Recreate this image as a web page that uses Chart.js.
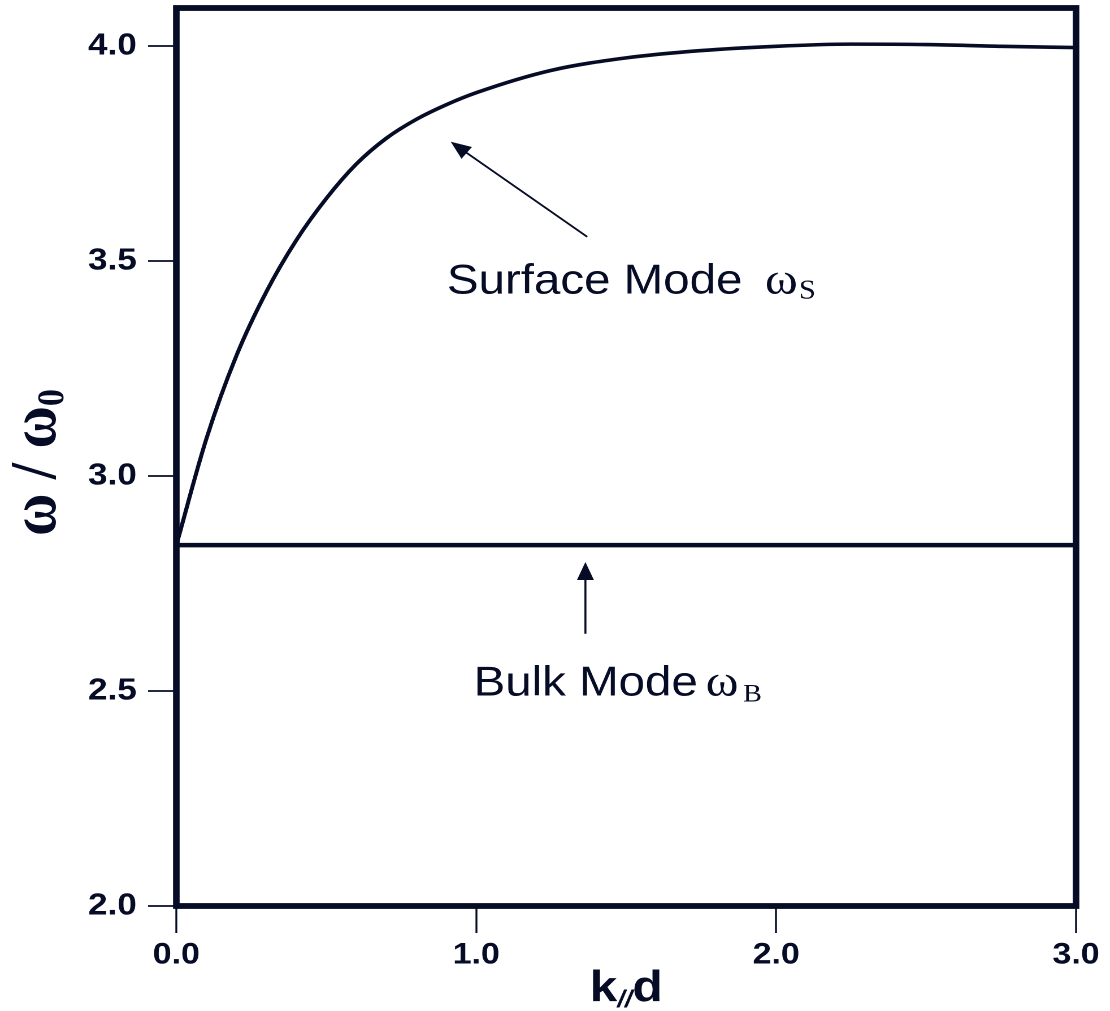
<!DOCTYPE html>
<html>
<head>
<meta charset="utf-8">
<title>Surface and bulk mode dispersion</title>
<script src="https://cdn.jsdelivr.net/npm/chart.js@4.4.1/dist/chart.umd.min.js"></script>
<style>
  html, body { margin: 0; padding: 0; background: #fff; overflow: hidden; }
  /* the original figure is stretched a bit horizontally */
  #wrap { position: relative; width: 982px; height: 1011px; transform: scaleX(1.1303); transform-origin: 0 0; }
</style>
</head>
<body>
<div id="wrap"><canvas id="chart"></canvas></div>
<script>
// k//d values and omega/omega0
const kValues     = [0, 0.1, 0.2, 0.3, 0.4, 0.5, 0.6, 0.7, 0.8, 0.9, 1.0, 1.25, 1.5, 1.75, 2.0, 2.25, 2.5, 2.75, 3.0];
const surfaceMode = [2.839, 3.086, 3.279, 3.428, 3.548, 3.645, 3.725, 3.785, 3.829, 3.863, 3.891, 3.943, 3.972, 3.989, 3.999, 4.004, 4.003, 3.999, 3.996];
const bulkK       = [0, 3.0];
const bulkMode    = [2.839, 2.839];

const xTickValues = [0, 1, 2, 3];
const yTickValues = [2.0, 2.5, 3.0, 3.5, 4.0];

// annotation arrows: [tail, head] in data units
const surfaceArrow = [[1.370, 3.556], [0.915, 3.777]];
const bulkArrow    = [[1.364, 2.633], [1.364, 2.800]];
const surfaceLabelAt = [0.902, 3.424];
const bulkLabelAt    = [0.991, 2.490];

const ink = '#060b26';
const sans = '"Liberation Sans", Arial, sans-serif';
const serif = '"Liberation Serif", "Times New Roman", serif';

function toPoints(xs, ys) {
  return xs.map(function(x, i) { return { x: x, y: ys[i] }; });
}

function drawArrow(ctx, x1, y1, x2, y2) {
  const a = Math.atan2(y2 - y1, x2 - x1);
  const len = 18, half = 7.5;
  ctx.beginPath();
  ctx.moveTo(x1, y1);
  ctx.lineTo(x2 - Math.cos(a) * len * 0.7, y2 - Math.sin(a) * len * 0.7);
  ctx.stroke();
  ctx.beginPath();
  ctx.moveTo(x2, y2);
  ctx.lineTo(x2 - len * Math.cos(a) + half * Math.sin(a), y2 - len * Math.sin(a) - half * Math.cos(a));
  ctx.lineTo(x2 - len * Math.cos(a) - half * Math.sin(a), y2 - len * Math.sin(a) + half * Math.cos(a));
  ctx.closePath();
  ctx.fill();
}

function modeLabel(ctx, x, y, text, gap, sub, subGap, subSize, subDrop) {
  ctx.textAlign = 'left';
  ctx.textBaseline = 'alphabetic';
  ctx.font = '42px ' + sans;
  ctx.fillText(text, x, y);
  let cx = x + ctx.measureText(text).width + gap;
  ctx.font = '44px ' + serif;
  ctx.fillText('\u03C9', cx, y);
  cx += ctx.measureText('\u03C9').width + subGap;
  ctx.font = subSize + 'px ' + serif;
  ctx.fillText(sub, cx, y + subDrop);
}

const figurePlugin = {
  id: 'figure',
  afterDatasetsDraw(chart) {
    const ctx = chart.ctx;
    const area = chart.chartArea;
    const xs = chart.scales.x, ys = chart.scales.y;
    ctx.save();
    ctx.strokeStyle = ink;
    ctx.fillStyle = ink;

    // box round the plot
    ctx.lineWidth = 5.8;
    ctx.strokeRect(area.left, area.top, area.right - area.left, area.bottom - area.top);

    // arrows
    ctx.lineWidth = 1.8;
    [surfaceArrow, bulkArrow].forEach(function(ar) {
      drawArrow(ctx,
        xs.getPixelForValue(ar[0][0]), ys.getPixelForValue(ar[0][1]),
        xs.getPixelForValue(ar[1][0]), ys.getPixelForValue(ar[1][1]));
    });

    // labels
    modeLabel(ctx, xs.getPixelForValue(surfaceLabelAt[0]), ys.getPixelForValue(surfaceLabelAt[1]),
      'Surface Mode', 20, 'S', 1, 27, 5);
    modeLabel(ctx, xs.getPixelForValue(bulkLabelAt[0]), ys.getPixelForValue(bulkLabelAt[1]),
      'Bulk Mode', 7, 'B', 4, 25, 6);

    // y title: omega / omega_0
    ctx.save();
    ctx.translate(49, 536);
    ctx.rotate(-Math.PI / 2);
    ctx.font = 'bold 58px ' + serif;
    const main = '\u03C9 / \u03C9';
    const w1 = ctx.measureText(main).width;
    ctx.fillText(main, 0, 0);
    ctx.font = 'bold 34px ' + serif;
    ctx.fillText('0', w1, 7);
    ctx.restore();

    // x title: k// d
    const cx = (area.left + area.right) / 2;
    ctx.font = 'bold 44px ' + sans;
    const wk = ctx.measureText('k').width, wd = ctx.measureText('d').width;
    ctx.font = 'bold italic 24px ' + sans;
    const ws = ctx.measureText('//').width;
    let x0 = cx - (wk + ws + wd) / 2;
    ctx.font = 'bold 44px ' + sans;
    ctx.fillText('k', x0, 1001);
    ctx.font = 'bold italic 24px ' + sans;
    ctx.fillText('//', x0 + wk, 1007);
    ctx.font = 'bold 44px ' + sans;
    ctx.fillText('d', x0 + wk + ws, 1001);
    ctx.restore();
  }
};

const ctx = document.getElementById('chart').getContext('2d');
new Chart(ctx, {
  type: 'line',
  data: {
    datasets: [
      {
        label: 'Surface Mode',
        data: toPoints(kValues, surfaceMode),
        borderColor: ink,
        borderWidth: 3.6,
        pointRadius: 0,
        fill: false,
        cubicInterpolationMode: 'monotone'
      },
      {
        label: 'Bulk Mode',
        data: toPoints(bulkK, bulkMode),
        borderColor: ink,
        borderWidth: 4.5,
        pointRadius: 0,
        fill: false
      }
    ]
  },
  options: {
    responsive: true,
    maintainAspectRatio: false,
    animation: false,
    devicePixelRatio: 2,
    layout: { padding: { top: 8, right: 30, left: 0, bottom: 0 } },
    plugins: { legend: { display: false }, tooltip: { enabled: false } },
    scales: {
      x: {
        type: 'linear',
        min: 0, max: 3,
        afterBuildTicks: function(scale) { scale.ticks = xTickValues.map(function(v) { return { value: v }; }); },
        afterFit: function(scale) { scale.height = 105; scale.paddingLeft = 0; scale.paddingRight = 0; },
        border: { display: false },
        grid: { drawOnChartArea: false, drawTicks: true, tickLength: 27, tickWidth: 1.7, tickColor: ink },
        ticks: {
          color: ink,
          padding: 4,
          font: { family: sans, size: 30, weight: 'bold' },
          callback: function(v) { return Number(v).toFixed(1); }
        }
      },
      y: {
        min: 2.0, max: 4.088,
        afterBuildTicks: function(scale) { scale.ticks = yTickValues.map(function(v) { return { value: v }; }); },
        afterFit: function(scale) { scale.width = 156; scale.paddingTop = 0; scale.paddingBottom = 0; },
        border: { display: false },
        grid: { drawOnChartArea: false, drawTicks: true, tickLength: 25, tickWidth: 1.7, tickColor: ink },
        ticks: {
          color: ink,
          padding: 10,
          font: { family: sans, size: 31, weight: 'bold' },
          callback: function(v) { return Number(v).toFixed(1); }
        }
      }
    }
  },
  plugins: [figurePlugin]
});
</script>
</body>
</html>
